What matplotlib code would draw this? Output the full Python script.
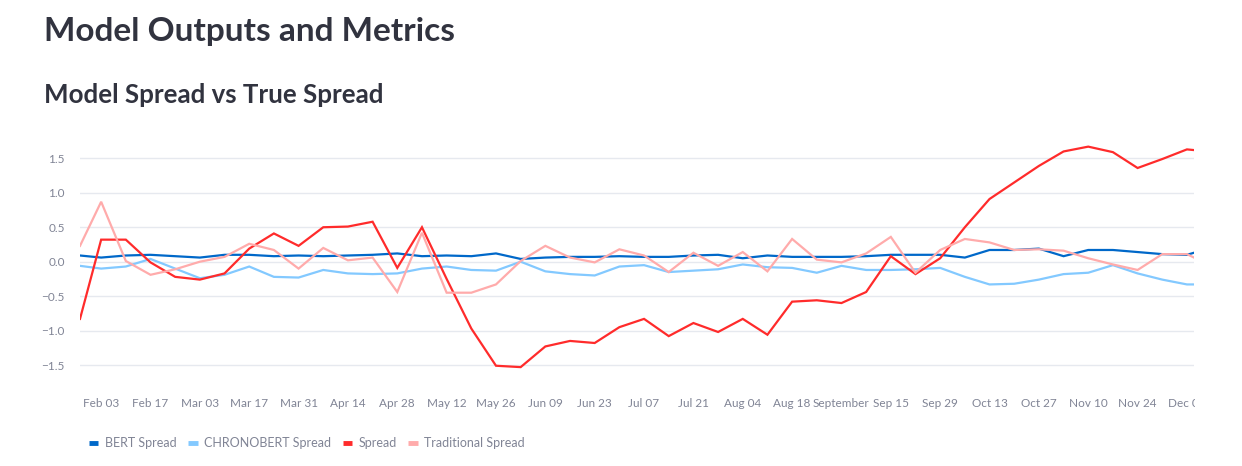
import pandas as pd
import matplotlib
matplotlib.use("Agg")
import matplotlib.pyplot as plt
import matplotlib.dates as mdates
import matplotlib.ticker as mticker
from matplotlib.lines import Line2D
from matplotlib.transforms import Bbox, TransformedBbox

plt.rcParams['font.family'] = ['Lato', 'DejaVu Sans']

# weekly points (Sundays) plus a partial first and last week
dates = ([pd.Timestamp("2019-01-28")]
         + list(pd.date_range("2019-02-03", "2019-12-08", freq="7D"))
         + [pd.Timestamp("2019-12-10")])

bert = [0.09,
        0.06, 0.09, 0.10, 0.08, 0.06, 0.10, 0.10, 0.08, 0.09, 0.08, 0.09,
        0.10, 0.12, 0.08, 0.09, 0.08, 0.12, 0.04, 0.06, 0.07, 0.07, 0.08, 0.07,
        0.07, 0.09, 0.10, 0.05, 0.09, 0.07, 0.07, 0.07, 0.08, 0.10, 0.10,
        0.10, 0.06, 0.17, 0.17, 0.19, 0.08, 0.17, 0.17, 0.14, 0.11, 0.10,
        0.13]
chronobert = [-0.06,
              -0.10, -0.07, 0.04, -0.10, -0.24, -0.19, -0.07, -0.22, -0.23, -0.12, -0.17,
              -0.18, -0.17, -0.10, -0.07, -0.12, -0.13, 0.00, -0.14, -0.18, -0.20, -0.07, -0.05,
              -0.15, -0.13, -0.11, -0.04, -0.08, -0.09, -0.16, -0.06, -0.12, -0.12, -0.11,
              -0.09, -0.22, -0.33, -0.32, -0.26, -0.18, -0.16, -0.05, -0.17, -0.26, -0.33,
              -0.33]
spread = [-0.83,
          0.32, 0.32, -0.01, -0.22, -0.26, -0.17, 0.19, 0.41, 0.23, 0.50, 0.51,
          0.58, -0.09, 0.50, -0.25, -0.97, -1.51, -1.53, -1.23, -1.15, -1.18, -0.95, -0.83,
          -1.08, -0.89, -1.02, -0.83, -1.06, -0.58, -0.56, -0.60, -0.44, 0.08, -0.18,
          0.05, 0.50, 0.91, 1.15, 1.39, 1.60, 1.67, 1.59, 1.36, 1.49, 1.63,
          1.62]
traditional = [0.23,
               0.87, 0.01, -0.19, -0.11, 0.00, 0.07, 0.26, 0.17, -0.10, 0.20, 0.02,
               0.06, -0.44, 0.42, -0.45, -0.45, -0.33, 0.01, 0.23, 0.06, -0.01, 0.18, 0.09,
               -0.15, 0.13, -0.06, 0.14, -0.14, 0.33, 0.03, -0.01, 0.12, 0.36, -0.16,
               0.17, 0.33, 0.28, 0.17, 0.18, 0.16, 0.05, -0.04, -0.12, 0.11, 0.11,
               0.06]

labels = ["BERT Spread", "CHRONOBERT Spread", "Spread", "Traditional Spread"]
colors = ["#0068c9", "#83c9ff", "#ff2b2b", "#ffabab"]
tick_dates = pd.date_range("2019-02-03", "2019-12-08", freq="14D")
yticks = [-1.5, -1.0, -0.5, 0.0, 0.5, 1.0, 1.5]

W, H = 1242, 466
fig = plt.figure(figsize=(W / 100, H / 100), dpi=100)
fig.patch.set_facecolor("white")

fig.text(44 / W, 1 - 40.7 / H, "Model Outputs and Metrics", fontsize=24,
         fontweight="bold", color="#31333f", va="baseline")
fig.text(44 / W, 1 - 102.7 / H, "Model Spread vs True Spread", fontsize=18.6,
         fontweight="bold", color="#31333f", va="baseline")

y_lo, y_hi = -1.8, 1.75
px_per_unit = 68.9
bot = 261.7 + (-y_lo) * px_per_unit
top = 261.7 - y_hi * px_per_unit
ax = fig.add_axes([80 / W, 1 - bot / H, 1114 / W, (bot - top) / H])

for series, c in zip([bert, chronobert, spread, traditional], colors):
    ax.plot(dates, series, color=c, lw=1.6, solid_joinstyle="miter")

ax.set_xlim(dates[0], dates[-1])
ax.set_ylim(y_lo, y_hi)
ax.set_yticks(yticks)
ax.yaxis.set_major_formatter(mticker.FuncFormatter(
    lambda v, p: f"{v:.1f}".replace("-", "\u2212")))
ax.set_xticks(tick_dates)


def fmt_date(x, pos):
    d = mdates.num2date(x)
    return d.strftime("%B") if d.day == 1 else d.strftime("%b %d")


ax.xaxis.set_major_formatter(mticker.FuncFormatter(fmt_date))
ax.yaxis.grid(True, color="#e6e9ef", lw=1)
ax.set_axisbelow(True)
for s in ax.spines.values():
    s.set_visible(False)
ax.tick_params(axis="both", length=0, labelsize=8.5, colors="#808495")
ax.tick_params(axis="y", pad=11)
ax.tick_params(axis="x", pad=9)

handles = [Line2D([0], [0], color=c, lw=3.5, solid_capstyle="butt") for c in colors]
fig.legend(handles, labels, loc="center left", bbox_to_anchor=(89 / W, 1 - 443 / H),
           ncol=4, frameon=False, fontsize=9, handlelength=0.75, handletextpad=0.5,
           columnspacing=0.95, labelcolor="#808495", borderpad=0, borderaxespad=0)

fig.canvas.draw()
clip = TransformedBbox(Bbox([[0, 0], [1195 / W, 1]]), fig.transFigure)
for lab in ax.get_xticklabels():
    lab.set_clip_box(clip)
    lab.set_clip_on(True)

fig.savefig("out.png", dpi=100, facecolor="white")
